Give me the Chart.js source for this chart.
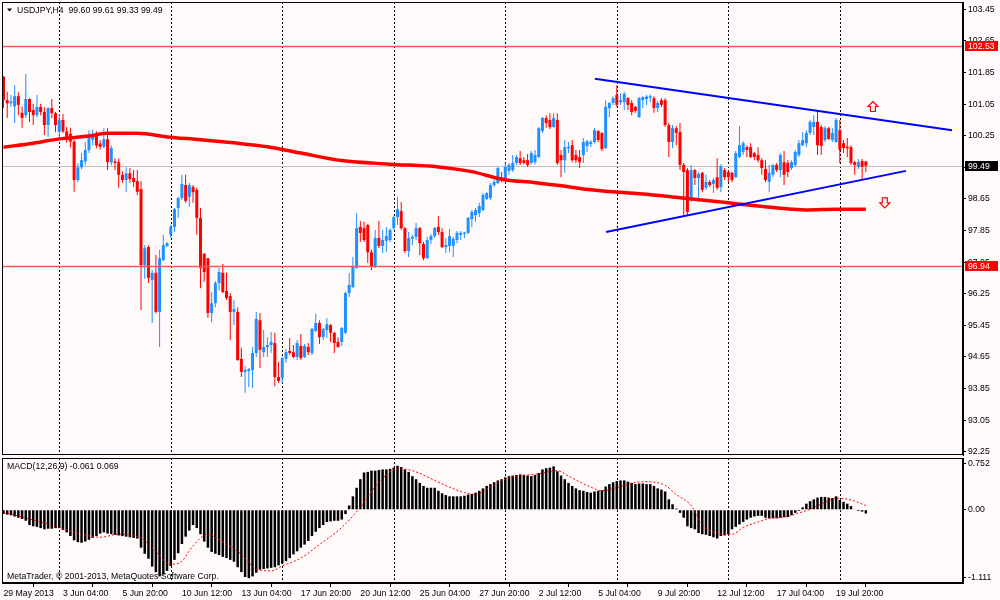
<!DOCTYPE html>
<html><head><meta charset="utf-8">
<script src="https://cdn.jsdelivr.net/npm/chart.js@4.4.1/dist/chart.umd.min.js"></script>
<style>
html,body{margin:0;padding:0;background:#fffafa;}
#wrap{position:relative;width:1000px;height:600px;background:#fffafa;overflow:hidden;}
canvas{position:absolute;left:0;display:block;}
#main{top:0;}
#macd{top:457px;}
</style></head><body>
<div id="wrap">
<canvas id="main" width="1000" height="457"></canvas>
<canvas id="macd" width="1000" height="143"></canvas>
</div>
<script>
// ---------------- DATA ----------------
const symbol = 'USDJPY', period = 'H4';
const opens = [
101.74,101.15,101.07,100.99,101.25,100.83,100.77,101.18,100.90,100.77,
100.98,100.85,100.52,100.95,100.82,100.35,100.65,100.36,100.30,100.10,
99.13,99.45,99.60,99.89,100.15,100.32,100.05,99.97,100.16,99.58,
99.60,99.58,99.26,99.13,99.30,99.18,99.10,98.90,96.97,97.43,
96.60,96.78,95.79,97.10,97.46,97.74,97.94,98.42,98.67,99.00,
98.70,98.95,98.88,98.17,97.26,97.15,95.76,96.01,96.52,96.78,
96.32,96.19,95.79,95.79,94.60,94.27,94.29,94.32,94.75,95.58,
94.77,94.90,94.95,95.00,94.14,94.12,94.60,94.80,94.77,94.65,
94.93,94.65,94.90,94.75,95.31,95.51,95.15,95.33,95.46,95.26,
95.03,95.03,95.26,96.27,96.42,96.90,97.94,97.91,97.99,97.30,
96.93,97.66,97.46,97.59,97.61,97.91,98.19,98.34,97.91,97.33,
97.64,97.69,97.91,97.51,97.15,97.61,97.71,97.94,97.81,97.43,
97.46,97.46,97.61,97.74,97.77,97.79,98.14,98.24,98.29,98.37,
98.65,98.67,99.00,99.05,99.20,99.13,99.36,99.38,99.56,99.68,
99.63,99.63,99.56,99.58,99.71,100.37,100.70,100.65,100.47,100.65,
99.76,99.63,99.93,100.01,99.76,99.71,99.76,99.99,100.04,100.09,
100.37,100.32,99.94,100.95,101.08,101.28,101.10,101.10,101.20,101.08,
100.98,100.72,101.15,101.18,101.21,101.20,100.95,101.15,101.15,100.52,
100.09,100.44,100.34,99.51,99.38,98.67,99.38,99.18,99.31,98.93,
99.08,99.03,99.20,98.95,99.38,99.33,99.31,99.20,99.71,99.84,
99.96,99.96,99.81,99.76,99.63,99.41,99.08,99.26,99.51,99.38,
99.58,99.56,99.43,99.51,99.76,100.01,100.06,100.32,100.47,100.60,
100.47,100.14,100.44,100.14,100.09,100.39,100.06,99.97,99.96,99.58,
99.46,99.61,99.60];
const highs = [
101.76,101.36,101.28,101.53,101.35,100.99,101.81,101.20,101.06,101.28,
101.06,100.98,100.98,101.18,100.85,100.80,100.80,100.47,100.45,100.14,
99.55,99.81,100.10,100.39,100.40,100.36,100.14,100.44,100.44,100.00,
99.68,99.68,99.35,99.45,99.43,99.38,99.38,99.10,97.48,97.48,
96.85,97.23,97.36,97.74,97.56,97.99,98.42,98.70,99.26,99.26,
99.05,99.00,98.93,98.42,97.28,97.15,96.29,96.57,96.90,97.00,
96.78,96.27,96.09,95.91,94.88,94.42,94.37,94.90,95.79,95.76,
95.33,95.15,95.28,95.26,94.52,94.65,94.85,95.13,94.95,95.08,
95.23,94.98,95.00,95.38,95.74,95.58,95.38,95.63,95.48,95.28,
95.15,95.41,96.30,96.78,97.18,98.29,98.09,98.07,98.02,97.36,
97.86,98.09,97.86,97.94,97.91,98.21,98.70,98.57,97.94,97.81,
97.74,98.04,97.94,97.56,97.69,97.76,97.94,98.22,97.91,97.66,
97.89,97.69,97.84,97.84,97.82,98.19,98.37,98.42,98.55,98.80,
98.82,99.05,99.13,99.46,99.33,99.56,99.56,99.76,99.76,99.86,
99.71,99.79,99.86,99.89,100.47,100.72,100.77,100.82,100.82,100.82,
99.89,100.14,100.09,100.14,99.89,99.89,100.19,100.14,100.14,100.44,
100.39,100.34,101.15,101.10,101.25,101.53,101.33,101.36,101.23,101.15,
101.01,101.23,101.25,101.28,101.30,101.25,101.13,101.20,101.20,100.57,
100.52,100.49,100.57,99.56,99.43,99.51,99.41,99.33,99.33,99.26,
99.13,99.18,99.68,99.53,99.43,99.38,99.33,99.86,100.49,100.11,
100.01,100.06,99.84,99.96,99.68,99.63,99.51,99.53,99.56,99.81,
99.86,99.63,99.63,99.89,100.14,100.34,100.39,100.65,100.77,100.88,
100.52,100.49,100.47,100.44,100.70,100.65,100.14,100.19,100.01,99.61,
99.66,99.66,99.61];
const lows = [
100.95,100.70,100.98,100.57,100.77,100.45,100.70,100.60,100.52,100.72,
100.77,100.27,100.22,100.70,100.34,100.20,100.32,100.07,99.95,98.83,
99.08,99.40,99.50,99.81,100.00,99.93,99.90,99.93,99.38,99.50,
99.38,98.93,99.05,98.83,99.05,98.95,98.75,95.84,96.63,96.52,
95.51,95.75,94.90,97.08,97.43,97.66,97.81,98.17,98.62,98.55,
98.45,98.55,97.74,96.39,96.55,95.64,95.53,95.91,96.34,96.27,
96.09,95.08,95.46,94.55,94.14,93.74,93.89,93.86,94.65,94.37,
94.65,94.65,94.75,93.91,93.99,93.99,94.50,94.70,94.62,94.57,
94.57,94.62,94.70,94.70,95.28,94.98,95.08,95.13,95.03,94.75,
94.88,94.93,95.23,96.17,96.39,96.88,97.56,97.56,97.03,96.85,
96.90,97.41,97.28,97.30,97.56,97.86,97.99,97.86,97.28,97.18,
97.48,97.61,97.23,97.10,97.13,97.51,97.66,97.74,97.41,97.28,
97.30,97.18,97.53,97.61,97.66,97.76,97.94,98.07,98.19,98.34,
98.62,98.62,98.95,99.03,99.08,99.11,99.26,99.33,99.51,99.51,
99.53,99.46,99.53,99.53,99.68,100.32,100.45,100.42,100.45,99.51,
99.20,99.31,99.81,99.58,99.56,99.43,99.56,99.84,99.96,100.06,
100.09,99.86,99.91,100.72,101.03,100.98,101.03,100.90,100.90,100.77,
100.83,100.70,100.95,101.03,101.10,100.83,100.85,100.98,100.47,99.71,
99.94,100.01,99.38,98.24,98.24,98.57,99.00,98.57,98.82,98.88,
98.95,98.80,98.88,98.82,99.13,99.08,99.08,99.18,99.68,99.76,
99.71,99.68,99.63,99.58,99.26,99.08,98.82,99.20,99.33,99.20,
99.00,99.20,99.38,99.46,99.71,99.99,99.96,100.27,100.27,99.76,
99.76,100.09,100.14,100.09,100.07,99.56,99.81,99.71,99.51,99.26,
99.41,99.13,99.33];
const closes = [
101.15,101.07,101.12,101.25,101.03,100.70,101.18,100.85,100.77,100.98,
100.85,100.52,100.95,100.82,100.52,100.65,100.36,100.20,100.10,99.13,
99.45,99.63,99.89,100.27,100.30,100.00,99.97,100.16,99.58,99.94,
99.56,99.26,99.13,99.30,99.15,99.08,98.83,96.97,97.40,96.65,
96.78,95.79,97.15,97.48,97.53,97.94,98.39,98.67,99.03,98.60,
99.00,98.82,98.17,96.90,96.80,95.76,96.01,96.52,96.80,96.29,
96.14,95.79,95.86,94.57,94.27,94.32,94.34,94.75,95.61,94.83,
94.90,94.95,95.03,94.14,94.04,94.62,94.77,94.75,94.65,95.00,
94.62,94.93,94.77,95.36,95.51,95.15,95.36,95.48,95.26,95.00,
94.90,95.38,96.27,96.47,96.95,97.91,97.79,97.61,97.30,96.93,
97.66,97.46,97.61,97.71,97.86,98.19,98.39,97.91,97.33,97.66,
97.69,97.91,97.53,97.15,97.61,97.71,97.91,97.81,97.43,97.48,
97.71,97.64,97.79,97.79,97.80,98.17,98.32,98.37,98.47,98.75,
98.80,99.00,99.08,99.43,99.13,99.46,99.51,99.56,99.71,99.56,
99.56,99.51,99.81,99.76,100.44,100.70,100.57,100.47,100.70,99.56,
99.63,99.96,99.97,99.63,99.63,99.58,100.09,100.11,100.09,100.39,
100.14,99.91,100.98,101.08,101.20,101.03,101.15,101.31,101.03,100.85,
100.88,101.20,101.23,101.24,101.25,100.95,101.08,101.03,100.52,100.09,
100.44,100.32,99.51,99.33,98.32,99.38,99.18,99.28,98.88,99.08,
99.00,99.13,98.93,99.48,99.20,99.20,99.13,99.81,100.01,100.06,
99.89,99.71,99.71,99.63,99.43,99.13,99.31,99.51,99.38,99.76,
99.26,99.33,99.58,99.84,100.06,100.14,100.32,100.60,100.60,100.01,
99.99,100.44,100.17,100.32,100.65,99.89,99.94,99.93,99.56,99.51,
99.58,99.46,99.49];

// moving average (thick red line), read at sample bars
const maBars   = [0,8,15,23,28,36,44,53,62,71,80,91,104,117,126,134,143,152,156,164,173,182,195,203,212,216,224,232];
const maValues = [99.96,100.06,100.17,100.24,100.31,100.31,100.22,100.15,100.07,99.97,99.81,99.62,99.53,99.46,99.34,99.15,99.06,98.96,98.90,98.83,98.77,98.68,98.55,98.47,98.39,98.37,98.39,98.39];

// trend lines [bar, price]
const trendUpper = [[159.1,101.69],[255.2,100.39]];
const trendLower = [[162.1,97.81],[242.8,99.36]];
// horizontal levels
const levelLines = [102.53, 96.94];
// arrows [bar, price]
const arrowUp = [233.9, 100.99];
const arrowDown = [237.1, 98.55];

// MACD
const macdHist = [
-0.07,-0.08,-0.09,-0.11,-0.13,-0.15,-0.18,-0.25,-0.27,-0.28,
-0.30,-0.32,-0.31,-0.31,-0.30,-0.30,-0.33,-0.37,-0.43,-0.50,
-0.53,-0.54,-0.52,-0.49,-0.46,-0.43,-0.39,-0.37,-0.39,-0.40,
-0.41,-0.42,-0.43,-0.44,-0.45,-0.46,-0.47,-0.62,-0.72,-0.80,
-0.93,-1.02,-1.09,-1.06,-1.00,-0.92,-0.82,-0.71,-0.56,-0.44,
-0.34,-0.25,-0.30,-0.40,-0.52,-0.62,-0.69,-0.72,-0.74,-0.77,
-0.79,-0.82,-0.85,-0.94,-1.02,-1.10,-1.12,-1.09,-1.03,-0.98,
-0.97,-0.96,-0.95,-0.94,-0.91,-0.88,-0.84,-0.79,-0.73,-0.68,
-0.62,-0.57,-0.51,-0.43,-0.36,-0.30,-0.25,-0.20,-0.19,-0.18,
-0.18,-0.16,-0.07,0.07,0.22,0.36,0.50,0.61,0.62,0.64,
0.64,0.65,0.66,0.66,0.67,0.69,0.72,0.70,0.66,0.62,
0.55,0.50,0.44,0.39,0.36,0.36,0.36,0.31,0.27,0.24,
0.22,0.22,0.22,0.22,0.23,0.25,0.26,0.28,0.31,0.35,
0.39,0.42,0.45,0.48,0.50,0.53,0.55,0.56,0.57,0.58,
0.57,0.56,0.55,0.57,0.60,0.66,0.68,0.69,0.71,0.63,
0.56,0.50,0.44,0.39,0.35,0.32,0.31,0.29,0.28,0.30,
0.31,0.32,0.38,0.42,0.45,0.47,0.48,0.48,0.46,0.44,
0.42,0.43,0.43,0.42,0.42,0.39,0.35,0.33,0.30,0.17,
0.09,0.02,-0.05,-0.13,-0.27,-0.30,-0.32,-0.38,-0.40,-0.41,
-0.43,-0.45,-0.47,-0.43,-0.42,-0.40,-0.32,-0.28,-0.24,-0.20,
-0.16,-0.13,-0.11,-0.10,-0.10,-0.13,-0.14,-0.14,-0.14,-0.13,
-0.12,-0.12,-0.09,-0.05,-0.02,0.04,0.10,0.14,0.17,0.20,
0.21,0.21,0.20,0.19,0.22,0.16,0.13,0.10,0.06,0.01,
-0.02,-0.03,-0.061];
const signalBars   = [0,4,10,15,21,26,31,37,40,45,48,51,55,58,64,68,72,75,80,85,91,96,101,106,110,116,120,124,127,131,135,138,143,149,152,158,161,167,172,178,181,185,188,192,196,199,203,206,210,213,217,221,224,228,232];
const signalValues = [-0.04,-0.10,-0.20,-0.29,-0.40,-0.45,-0.40,-0.46,-0.62,-0.89,-0.84,-0.59,-0.40,-0.49,-0.73,-0.97,-1.00,-0.92,-0.79,-0.57,-0.29,0.04,0.45,0.67,0.64,0.48,0.37,0.28,0.25,0.37,0.50,0.55,0.58,0.64,0.55,0.37,0.31,0.40,0.46,0.40,0.25,0.07,-0.24,-0.38,-0.40,-0.29,-0.20,-0.14,-0.12,-0.07,0.01,0.12,0.19,0.16,0.069];

// axes
const priceTicks = [103.45,102.65,101.85,101.05,100.25,99.45,98.65,97.85,97.05,96.25,95.45,94.65,93.85,93.05,92.25];
const macdTicks = [0.752, 0, -1.111];
const macdTickLabels = ['0.752','0.00','-1.111'];
const timeLabels = ['29 May 2013','3 Jun 04:00','5 Jun 20:00','10 Jun 12:00','13 Jun 04:00','17 Jun 20:00','20 Jun 12:00','25 Jun 04:00','27 Jun 20:00','2 Jul 12:00','5 Jul 04:00','9 Jul 20:00','12 Jul 12:00','17 Jul 04:00','19 Jul 20:00'];
const timeLabelBars = [0,16,32,48,64,80,96,112,128,144,160,176,192,208,224];
const gridBars = [15,45,75,105,135,165,195,225];

// ---------------- STYLE ----------------
const UP = '#1e90ff', DOWN = '#ff0000', BG = '#fffafa';
const FONT = '"Liberation Sans", Arial, sans-serif';
const FS = 8.7;
Chart.defaults.font.family = FONT;
Chart.defaults.font.size = FS;
Chart.defaults.color = '#000';
const X_MIN = -0.4, X_MAX = 258.14;
const last = closes.length - 1;

const candleColors = closes.map((c, i) => c >= opens[i] ? UP : DOWN);
const wickData = closes.map((c, i) => ({x: i, y: [lows[i], highs[i]]}));
const bodyData = closes.map((c, i) => ({x: i, y: [opens[i], c]}));
const maData = maBars.map((b, i) => ({x: b, y: maValues[i]}));
const toPts = arr => arr.map(p => ({x: p[0], y: p[1]}));

function drawGrid(chart) {
  const {ctx, chartArea: a, scales: {x}} = chart;
  ctx.save();
  ctx.strokeStyle = '#000'; ctx.lineWidth = 1; ctx.setLineDash([2, 2]);
  gridBars.forEach(b => {
    const px = Math.round(x.getPixelForValue(b)) + 0.5;
    ctx.beginPath(); ctx.moveTo(px, a.top); ctx.lineTo(px, a.bottom); ctx.stroke();
  });
  ctx.restore();
}
function drawFrame(chart) {
  const {ctx, chartArea: a} = chart;
  ctx.save();
  ctx.strokeStyle = '#000'; ctx.lineWidth = 1;
  ctx.strokeRect(Math.round(a.left) + 0.5, Math.round(a.top) + 0.5,
                 Math.round(a.right) - Math.round(a.left) - 1, Math.round(a.bottom) - Math.round(a.top) - 1);
  ctx.restore();
}
function drawArrow(ctx, cx, cy, dir) {
  ctx.beginPath();
  ctx.moveTo(cx, cy + dir * 5);
  ctx.lineTo(cx + 5, cy);
  ctx.lineTo(cx + 2.5, cy);
  ctx.lineTo(cx + 2.5, cy - dir * 5);
  ctx.lineTo(cx - 2.5, cy - dir * 5);
  ctx.lineTo(cx - 2.5, cy);
  ctx.lineTo(cx - 5, cy);
  ctx.closePath();
  ctx.fillStyle = BG; ctx.fill();
  ctx.strokeStyle = '#ff0000'; ctx.lineWidth = 1.2; ctx.stroke();
}
function priceBox(chart, value, color) {
  const {ctx, chartArea: a, scales: {y}} = chart;
  const py = y.getPixelForValue(value);
  ctx.fillStyle = color;
  ctx.fillRect(a.right + 2, Math.round(py) - 5, 33, 10);
  ctx.fillStyle = '#fff';
  ctx.font = FS + 'px ' + FONT;
  ctx.textBaseline = 'middle'; ctx.textAlign = 'left';
  ctx.fillText(value.toFixed(2), a.right + 5, Math.round(py) + 0.5);
}

const mainDecor = {
  id: 'mainDecor',
  beforeDatasetsDraw(chart) {
    drawGrid(chart);
    const {ctx, chartArea: a, scales: {y}} = chart;
    const py = Math.round(y.getPixelForValue(closes[last])) + 0.5;
    ctx.save();
    ctx.strokeStyle = '#c0c0c0'; ctx.lineWidth = 1;
    ctx.beginPath(); ctx.moveTo(a.left, py); ctx.lineTo(a.right, py); ctx.stroke();
    ctx.restore();
  },
  afterDatasetsDraw(chart) {
    const {ctx, chartArea: a, scales: {x, y}} = chart;
    ctx.save();
    ctx.strokeStyle = '#f05a5a'; ctx.lineWidth = 1.5;
    levelLines.forEach(v => {
      const py = Math.round(y.getPixelForValue(v)) + 0.5;
      ctx.beginPath(); ctx.moveTo(a.left, py); ctx.lineTo(a.right, py); ctx.stroke();
    });
    drawArrow(ctx, x.getPixelForValue(arrowUp[0]), y.getPixelForValue(arrowUp[1]), -1);
    drawArrow(ctx, x.getPixelForValue(arrowDown[0]), y.getPixelForValue(arrowDown[1]), 1);
    ctx.restore();
  },
  afterDraw(chart) {
    drawFrame(chart);
    const {ctx} = chart;
    ctx.save();
    levelLines.forEach(v => priceBox(chart, v, '#ff0000'));
    priceBox(chart, closes[last], '#000');
    // title
    ctx.fillStyle = '#000';
    ctx.beginPath(); ctx.moveTo(7, 8.5); ctx.lineTo(12, 8.5); ctx.lineTo(9.5, 11.5); ctx.closePath(); ctx.fill();
    ctx.font = FS + 'px ' + FONT; ctx.textBaseline = 'middle'; ctx.textAlign = 'left';
    ctx.fillText(symbol + ',' + period + '  ' + opens[last].toFixed(2) + ' ' + highs[last].toFixed(2) + ' ' +
                 lows[last].toFixed(2) + ' ' + closes[last].toFixed(2), 17, 10.5);
    ctx.restore();
  }
};

new Chart(document.getElementById('main'), {
  type: 'bar',
  data: {
    datasets: [
      {type: 'line', data: toPts(trendUpper), borderColor: '#0000ff', borderWidth: 2, pointRadius: 0, order: 0},
      {type: 'line', data: toPts(trendLower), borderColor: '#0000ff', borderWidth: 2, pointRadius: 0, order: 0},
      {type: 'line', data: maData, borderColor: '#ff0000', borderWidth: 3.5, pointRadius: 0, cubicInterpolationMode: 'monotone', order: 1},
      {type: 'bar', data: bodyData, backgroundColor: candleColors, barThickness: 3, grouped: false, inflateAmount: 0, minBarLength: 1, borderWidth: 0, order: 2},
      {type: 'bar', data: wickData, backgroundColor: candleColors, barThickness: 1, grouped: false, inflateAmount: 0, minBarLength: 1, borderWidth: 0, order: 3}
    ]
  },
  options: {
    responsive: false, animation: false, events: [],
    layout: {padding: {left: 2, top: 2, right: 0, bottom: 2}},
    plugins: {legend: {display: false}, tooltip: {enabled: false}},
    scales: {
      x: {type: 'linear', min: X_MIN, max: X_MAX, offset: false, display: false},
      y: {type: 'linear', position: 'right', min: 92.167, max: 103.635,
          afterFit: s => { s.width = 37; s.paddingTop = 0; s.paddingBottom = 0; },
          afterBuildTicks: s => { s.ticks = priceTicks.map(v => ({value: v})); },
          ticks: {callback: v => Number(v).toFixed(2), padding: 2, autoSkip: false, color: '#000'},
          grid: {drawOnChartArea: false, drawTicks: true, tickLength: 3, color: '#000'},
          border: {display: true, color: '#000', width: 1}}
    }
  },
  plugins: [mainDecor]
});

const macdDecor = {
  id: 'macdDecor',
  beforeDatasetsDraw(chart) { drawGrid(chart); },
  afterDraw(chart) {
    drawFrame(chart);
    const {ctx} = chart;
    ctx.save();
    ctx.fillStyle = '#000';
    ctx.font = FS + 'px ' + FONT; ctx.textBaseline = 'middle'; ctx.textAlign = 'left';
    ctx.fillText('MACD(12,26,9) ' + macdHist[last].toFixed(3) + ' ' + signalValues[signalValues.length - 1].toFixed(3), 7, 10);
    ctx.fillText('MetaTrader, \u00A9 2001-2013, MetaQuotes Software Corp.', 7, 120);
    ctx.restore();
  }
};

new Chart(document.getElementById('macd'), {
  type: 'bar',
  data: {
    datasets: [
      {type: 'line', data: signalBars.map((b, i) => ({x: b, y: signalValues[i]})), borderColor: '#ff0000', borderWidth: 1,
       borderDash: [2, 2], pointRadius: 0, cubicInterpolationMode: 'monotone', order: 0},
      {type: 'bar', data: macdHist.map((v, i) => ({x: i, y: v})), backgroundColor: '#000', barThickness: 2.5,
       grouped: false, inflateAmount: 0, borderWidth: 0, order: 1}
    ]
  },
  options: {
    responsive: false, animation: false, events: [],
    layout: {padding: {left: 2, top: 1, right: 0, bottom: 0}},
    plugins: {legend: {display: false}, tooltip: {enabled: false}},
    scales: {
      x: {type: 'linear', min: X_MIN, max: X_MAX, offset: false, position: 'bottom',
          afterFit: s => { s.height = 17; s.paddingLeft = 0; s.paddingRight = 0; },
          afterBuildTicks: s => { s.ticks = timeLabelBars.map(v => ({value: v})); },
          ticks: {autoSkip: false, maxRotation: 0, minRotation: 0, align: 'start', padding: 1,
                  callback: (v, i) => timeLabels[i], color: '#000'},
          grid: {drawOnChartArea: false, drawTicks: true, tickLength: 4, color: '#000'},
          border: {display: true, color: '#000', width: 1}},
      y: {type: 'linear', position: 'right', min: -1.198, max: 0.847,
          afterFit: s => { s.width = 37; s.paddingTop = 0; s.paddingBottom = 0; },
          afterBuildTicks: s => { s.ticks = macdTicks.map(v => ({value: v})); },
          ticks: {callback: (v, i) => macdTickLabels[i], padding: 2, autoSkip: false, color: '#000'},
          grid: {drawOnChartArea: false, drawTicks: true, tickLength: 3, color: '#000'},
          border: {display: true, color: '#000', width: 1}}
    }
  },
  plugins: [macdDecor]
});
</script>
</body></html>
